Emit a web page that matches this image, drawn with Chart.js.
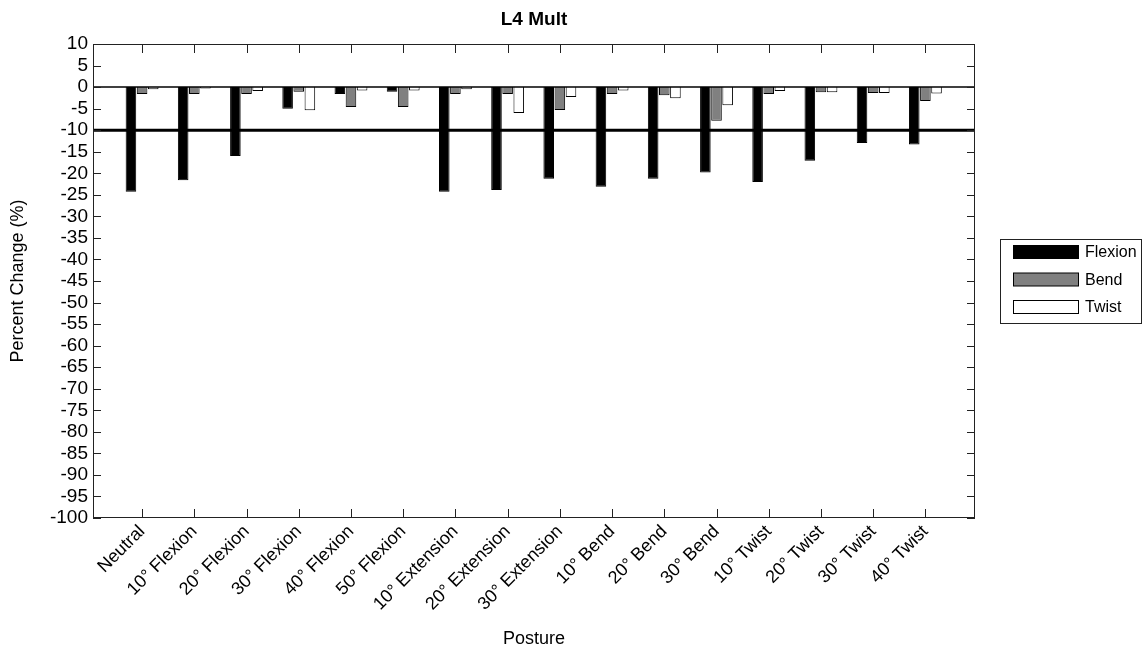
<!DOCTYPE html>
<html>
<head>
<meta charset="utf-8">
<script src="https://cdn.jsdelivr.net/npm/chart.js@4.4.0/dist/chart.umd.min.js"></script>
<style>
	body { margin: 0; background: #fff; }
	#wrap { width: 1147px; height: 656px; }
</style>
</head>
<body>
<div id="wrap"><canvas id="chart" width="1147" height="656"></canvas></div>
<script>
// postures along the x axis
const postures = ['Neutral', '10° Flexion', '20° Flexion', '30° Flexion', '40° Flexion', '50° Flexion',
	'10° Extension', '20° Extension', '30° Extension', '10° Bend', '20° Bend', '30° Bend',
	'10° Twist', '20° Twist', '30° Twist', '40° Twist'];

// percent change per posture
const flexion = [-24.3, -21.6, -16.0, -5.0, -1.6, -1.1, -24.3, -23.9, -21.3, -23.1, -21.3, -19.8, -22.0, -17.1, -13.0, -13.3];
const bend    = [-1.6, -1.6, -1.6, -1.1, -4.6, -4.6, -1.6, -1.6, -5.3, -1.6, -1.9, -7.8, -1.6, -1.2, -1.4, -3.2];
const twist   = [-0.5, -0.3, -0.9, -5.4, -0.8, -0.8, -0.5, -6.0, -2.3, -0.8, -2.6, -4.2, -0.9, -1.2, -1.4, -1.5];

const seriesNames = ['Flexion', 'Bend', 'Twist'];
const chartTitle = 'L4 Mult';
const yMin = -100, yMax = 10, yStep = 5;
const threshold = -10;

const FONT = 'Liberation Sans';

function toPoints(arr)
{
	return arr.map(function (v, i) { return { x: i + 1, y: v }; });
}

// title centred over the axes, frame, inward ticks, zero line and threshold line
const framePlugin = {
	id: 'frame',
	afterDatasetsDraw: function (chart) {
		const ctx = chart.ctx;
		const a = chart.chartArea;
		const xs = chart.scales.x, ys = chart.scales.y;
		ctx.save();

		// zero baseline
		let y0 = ys.getPixelForValue(0);
		ctx.strokeStyle = '#000';
		ctx.lineWidth = 1.5;
		ctx.beginPath();
		ctx.moveTo(a.left, y0);
		ctx.lineTo(a.right, y0);
		ctx.stroke();

		// threshold line
		let yt = ys.getPixelForValue(threshold);
		ctx.lineWidth = 3;
		ctx.beginPath();
		ctx.moveTo(a.left, yt);
		ctx.lineTo(a.right, yt);
		ctx.stroke();

		// box
		ctx.strokeStyle = '#222';
		ctx.lineWidth = 1;
		ctx.strokeRect(a.left + 0.5, a.top + 0.5, a.right - a.left - 1, a.bottom - a.top - 1);

		// ticks pointing inward
		ctx.beginPath();
		ys.ticks.forEach(function (t) {
			let py = Math.round(ys.getPixelForValue(t.value)) + 0.5;
			ctx.moveTo(a.left, py); ctx.lineTo(a.left + 8, py);
			ctx.moveTo(a.right, py); ctx.lineTo(a.right - 8, py);
		});
		xs.ticks.forEach(function (t) {
			let px = Math.round(xs.getPixelForValue(t.value)) + 0.5;
			ctx.moveTo(px, a.top); ctx.lineTo(px, a.top + 9);
			ctx.moveTo(px, a.bottom); ctx.lineTo(px, a.bottom - 9);
		});
		ctx.stroke();

		// title
		ctx.fillStyle = '#000';
		ctx.font = 'bold 19px "' + FONT + '"';
		ctx.textAlign = 'center';
		ctx.textBaseline = 'middle';
		ctx.fillText(chartTitle, (a.left + a.right) / 2, 20);
		ctx.restore();
	}
};

// legend box outside the axes on the right
const legendPlugin = {
	id: 'boxLegend',
	afterDraw: function (chart) {
		const ctx = chart.ctx;
		const bx = 1000, by = 239, bw = 141, bh = 84;
		ctx.save();
		ctx.fillStyle = '#fff';
		ctx.fillRect(bx, by, bw, bh);
		ctx.strokeStyle = '#222';
		ctx.lineWidth = 1;
		ctx.strokeRect(bx + 0.5, by + 0.5, bw, bh);
		ctx.font = '16px "' + FONT + '"';
		ctx.textBaseline = 'middle';
		chart.data.datasets.forEach(function (ds, i) {
			let cy = by + 13 + i * 27.5;
			ctx.fillStyle = ds.backgroundColor;
			ctx.fillRect(1013.5, cy - 6.5, 65, 13);
			ctx.strokeStyle = '#000';
			ctx.strokeRect(1013.5, cy - 6.5, 65, 13);
			ctx.fillStyle = '#000';
			ctx.fillText(ds.label, 1085, cy + 1);
		});
		ctx.restore();
	}
};

const ctx = document.getElementById('chart').getContext('2d');
new Chart(ctx, {
	type: 'bar',
	data: {
		datasets: [
			{ label: seriesNames[0], data: toPoints(flexion), backgroundColor: '#000000' },
			{ label: seriesNames[1], data: toPoints(bend), backgroundColor: '#808080' },
			{ label: seriesNames[2], data: toPoints(twist), backgroundColor: '#ffffff' }
		]
	},
	options: {
		responsive: false,
		animation: false,
		layout: { padding: { left: 0, right: 172, top: 44, bottom: 0 } },
		datasets: {
			bar: {
				borderColor: '#000',
				borderWidth: 1,
				categoryPercentage: 0.64,
				barPercentage: 0.95
			}
		},
		plugins: {
			legend: { display: false },
			tooltip: { enabled: false },
			title: { display: false }
		},
		scales: {
			x: {
				type: 'linear',
				min: 0.06,
				max: 16.95,
				offset: false,
				grid: { display: false, drawTicks: false },
				border: { display: false },
				afterBuildTicks: function (scale) {
					scale.ticks = postures.map(function (p, i) { return { value: i + 1 }; });
				},
				afterFit: function (scale) { scale.height = 138; },
				ticks: {
					autoSkip: false,
					minRotation: 45,
					maxRotation: 45,
					padding: 3,
					color: '#000',
					font: { family: FONT, size: 18 },
					callback: function (value) { return postures[value - 1] || ''; }
				},
				title: {
					display: true,
					text: 'Posture',
					color: '#000',
					font: { family: FONT, size: 18 },
					padding: { top: 0, bottom: 6 }
				}
			},
			y: {
				min: yMin,
				max: yMax,
				grid: { display: false, drawTicks: false },
				border: { display: false },
				afterFit: function (scale) { scale.width = 93; },
				ticks: {
					stepSize: yStep,
					autoSkip: false,
					padding: 5,
					color: '#000',
					font: { family: FONT, size: 19, lineHeight: 1 }
				},
				title: {
					display: true,
					text: 'Percent Change (%)',
					color: '#000',
					font: { family: FONT, size: 18 },
					padding: { top: 7, bottom: 0 }
				}
			}
		}
	},
	plugins: [framePlugin, legendPlugin]
});
</script>
</body>
</html>
